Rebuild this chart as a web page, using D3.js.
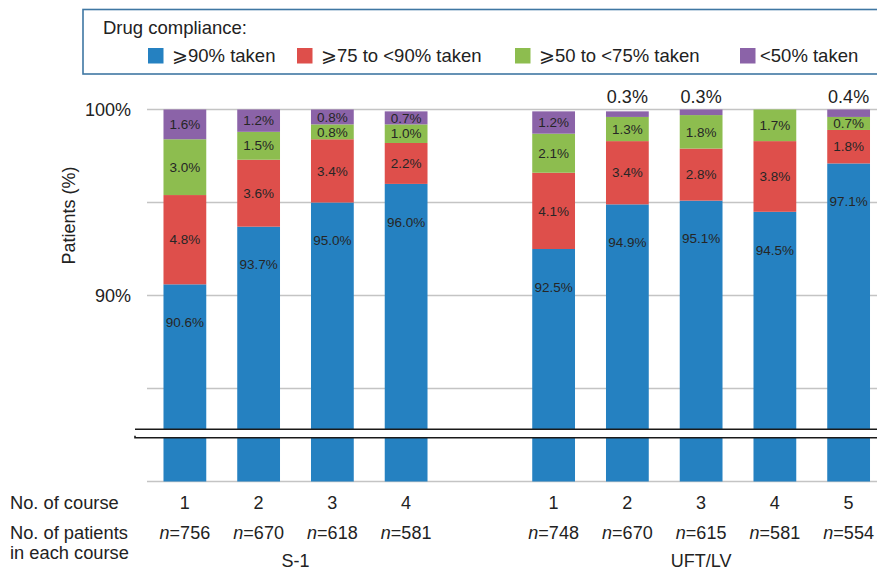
<!DOCTYPE html>
<html lang="en">
<head>
<meta charset="UTF-8">
<title>Drug compliance</title>
<style>
  body { margin: 0; background: #fff; }
  svg { display: block; font-family: "Liberation Sans", Arial, sans-serif; }
</style>
</head>
<body>
<div class="canvas"></div>
<script src="https://cdnjs.cloudflare.com/ajax/libs/d3/7.8.5/d3.min.js"></script>
<script>
// data
const groups = ['S-1', 'UFT/LV'];
const courses = ['S1-1', 'S1-2', 'S1-3', 'S1-4', 'gap', 'U-1', 'U-2', 'U-3', 'U-4', 'U-5'];
const courseLabels = ['1', '2', '3', '4', '', '1', '2', '3', '4', '5'];
const patients = ['756', '670', '618', '581', '', '748', '670', '615', '581', '554'];
const taken90 = [90.6, 93.7, 95.0, 96.0, null, 92.5, 94.9, 95.1, 94.5, 97.1];
const taken75 = [4.8, 3.6, 3.4, 2.2, null, 4.1, 3.4, 2.8, 3.8, 1.8];
const taken50 = [3.0, 1.5, 0.8, 1.0, null, 2.1, 1.3, 1.8, 1.7, 0.7];
const takenLow = [1.6, 1.2, 0.8, 0.7, null, 1.2, 0.3, 0.3, 0, 0.4];
const legendLabels = ['\u2A7E90% taken', '\u2A7E75 to <90% taken', '\u2A7E50 to <75% taken', '<50% taken'];
const yTicks = [100, 90];
const gridTicks = [100, 95, 90, 85];

const keys = ['a', 'b', 'c', 'd'];
const colors = ['#2581c1', '#de4f4b', '#8dbd4f', '#8b63a8'];

const rows = courses.map((c, i) => ({
  course: c, a: taken90[i], b: taken75[i], c: taken50[i], d: takenLow[i]
})).filter(r => r.a !== null);

const width = 877, height = 570;

const svg = d3.select('.canvas').append('svg')
  .attr('width', width)
  .attr('height', height);

const x = d3.scaleBand()
  .domain(courses)
  .range([148, 885.5])
  .paddingInner(0.42)
  .paddingOuter(0.21);

const y = d3.scaleLinear()
  .domain([80, 100])
  .range([481.5, 109.5]);

// grid
svg.append('g').selectAll('line')
  .data(gridTicks.concat([80]))
  .join('line')
  .attr('x1', 147).attr('x2', width)
  .attr('y1', d => y(d)).attr('y2', d => y(d))
  .attr('stroke', '#c4c4c4')
  .attr('stroke-width', 1.5);

// tick labels
svg.append('g').selectAll('text')
  .data(yTicks)
  .join('text')
  .attr('x', 131)
  .attr('y', d => y(d))
  .attr('dy', '0.35em')
  .attr('text-anchor', 'end')
  .attr('font-size', 18)
  .attr('fill', '#222')
  .text(d => d + '%');

svg.append('text')
  .attr('transform', `translate(75, ${y(94.3)}) rotate(-90)`)
  .attr('text-anchor', 'middle')
  .attr('font-size', 18)
  .attr('fill', '#222')
  .text('Patients (%)');

// stacked bars
const series = d3.stack().keys(keys)(rows);

const layer = svg.append('g').selectAll('g')
  .data(series)
  .join('g')
  .attr('fill', (d, i) => colors[i]);

layer.selectAll('rect')
  .data(d => d.filter(p => p[1] > p[0]))
  .join('rect')
  .attr('x', d => x(d.data.course))
  .attr('width', x.bandwidth())
  .attr('y', d => y(Math.min(d[1], 100)))
  .attr('height', d => y(d[0] === 0 ? 80 : d[0]) - y(Math.min(d[1], 100)));

// labels inside segments
series.forEach((s, i) => {
  svg.append('g').selectAll('text')
    .data(s.filter(p => p[1] - p[0] >= 0.6))
    .join('text')
    .attr('x', d => x(d.data.course) + x.bandwidth() / 2)
    .attr('y', d => i === 0 ? y(d[1]) + 38 : (y(Math.min(d[1], 100)) + y(d[0])) / 2)
    .attr('dy', '0.35em')
    .attr('text-anchor', 'middle')
    .attr('font-size', 13.5)
    .attr('fill', '#262626')
    .text(d => (d[1] - d[0]).toFixed(1) + '%');
});

// small values above the bar
svg.append('g').selectAll('text')
  .data(rows.filter(r => r.d > 0 && r.d < 0.6))
  .join('text')
  .attr('x', d => x(d.course) + x.bandwidth() / 2)
  .attr('y', y(100) - 7)
  .attr('text-anchor', 'middle')
  .attr('font-size', 18)
  .attr('fill', '#222')
  .text(d => d.d.toFixed(1) + '%');

// axis break
const b1 = y(82.81), b2 = y(82.35);
svg.append('rect')
  .attr('x', 135).attr('width', width - 135)
  .attr('y', b1).attr('height', b2 - b1)
  .attr('fill', '#fff');
svg.append('path')
  .attr('d', `M135,${b1}H${width}M135,${b2 - 2}V${b2}H${width}`)
  .attr('fill', 'none')
  .attr('stroke', '#1a1a1a')
  .attr('stroke-width', 1.6);

// legend
svg.append('rect')
  .attr('x', 83).attr('y', 9.5)
  .attr('width', 820).attr('height', 64.5)
  .attr('fill', 'none')
  .attr('stroke', '#3f77a3')
  .attr('stroke-width', 1.6);

svg.append('text')
  .attr('x', 103).attr('y', 34)
  .attr('font-size', 18.5)
  .attr('fill', '#222')
  .text('Drug compliance:');

const legendX = [148, 297, 515, 740];
const item = svg.append('g').selectAll('g')
  .data(legendLabels)
  .join('g')
  .attr('transform', (d, i) => `translate(${legendX[i]}, 48)`);
item.append('rect')
  .attr('width', 15.5).attr('height', 15.5)
  .attr('fill', (d, i) => colors[i]);
item.append('text')
  .attr('x', (d, i) => i === 3 ? 20 : 24)
  .attr('y', 14)
  .attr('font-size', 18.5)
  .attr('fill', '#222')
  .text(d => d);

// bottom labels
const rowText = (txt, yy) => svg.append('text')
  .attr('x', 10).attr('y', yy)
  .attr('font-size', 18.3).attr('fill', '#222')
  .text(txt);
rowText('No. of course', 509);
rowText('No. of patients', 539);
rowText('in each course', 559);

svg.append('g').selectAll('text')
  .data(courses.filter((c, i) => courseLabels[i] !== ''))
  .join('text')
  .attr('x', d => x(d) + x.bandwidth() / 2)
  .attr('y', 509)
  .attr('text-anchor', 'middle')
  .attr('font-size', 18)
  .attr('fill', '#222')
  .text(d => courseLabels[courses.indexOf(d)]);

const nText = svg.append('g').selectAll('text')
  .data(courses.filter((c, i) => patients[i] !== ''))
  .join('text')
  .attr('x', d => x(d) + x.bandwidth() / 2)
  .attr('y', 539)
  .attr('text-anchor', 'middle')
  .attr('font-size', 18)
  .attr('fill', '#222');
nText.append('tspan').attr('font-style', 'italic').text('n');
nText.append('tspan').text(d => '=' + patients[courses.indexOf(d)]);

svg.append('g').selectAll('text')
  .data(groups)
  .join('text')
  .attr('x', (d, i) => {
    const list = i === 0 ? courses.slice(0, 4) : courses.slice(5);
    return (x(list[0]) + x(list[list.length - 1]) + x.bandwidth()) / 2;
  })
  .attr('y', 567)
  .attr('text-anchor', 'middle')
  .attr('font-size', 18)
  .attr('fill', '#222')
  .text(d => d);
</script>
</body>
</html>
